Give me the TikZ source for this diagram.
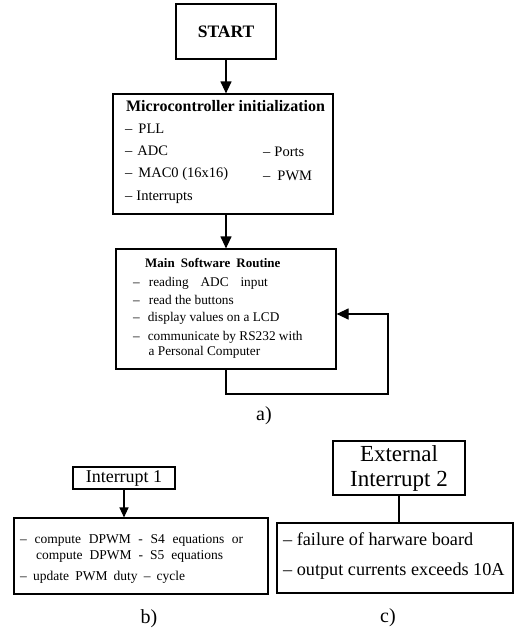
\documentclass[tikz,border=0pt]{standalone}
\usepackage{fontspec}
\setmainfont{Liberation Serif}
\usetikzlibrary{arrows.meta}
\usetikzlibrary{positioning}

\tikzset{
  blk/.style={draw, line width=1.2pt, inner sep=0pt},
  itm/.style={anchor=base west, inner sep=0pt},
  flow/.style={-{Triangle[length=12pt,width=11pt]}, line width=1.2pt},
}

\begin{document}
\begin{tikzpicture}[x=1pt, y=-1pt]
  \useasboundingbox (0,0) rectangle (516,630);

  % a) main program
  \node [blk, minimum width=100pt, minimum height=55pt, font=\fontsize{17.5}{20}\selectfont\bfseries] (c1) at (226,31.5) {START};

  \node [blk, minimum width=220pt, minimum height=120pt] (c2) at (223,154) {};
  \node [anchor=base, inner sep=0pt, font=\fontsize{16}{18}\selectfont\bfseries] (iMicro) at (225.5,111) {Microcontroller initialization};
  \node [itm, font=\fontsize{14.5}{16}\selectfont] (iPLL) at (125,133) {–\hspace{6pt}PLL};
  \node [itm, font=\fontsize{14.5}{16}\selectfont] (iADC) at (125,155) {–\hspace{5pt}ADC};
  \node [itm, font=\fontsize{14.5}{16}\selectfont] (iMAC) at (125,177) {–\hspace{6pt}MAC0 (16x16)};
  \node [itm, font=\fontsize{14.5}{16}\selectfont] (iInt) at (125,200) {–\hspace{4pt}Interrupts};
  \node [itm, font=\fontsize{14.5}{16}\selectfont] (iPorts) at (263,156) {–\hspace{4pt}Ports};
  \node [itm, font=\fontsize{14.5}{16}\selectfont] (iPWM) at (263,180) {–\hspace{7pt}PWM};

  \node [blk, minimum width=220pt, minimum height=120pt] (c3) at (226,309) {};
  \node [itm, font=\fontsize{13}{15}\selectfont\bfseries] (iMain) at (145,267) {Main\hspace{6pt}Software\hspace{6pt}Routine};
  \node [itm, font=\fontsize{13.3}{15}\selectfont] (iRead) at (133,286) {–\hspace{9pt}\makebox[119pt][s]{reading ADC input}};
  \node [itm, font=\fontsize{13.3}{15}\selectfont] (iBtn) at (133,304) {–\hspace{9pt}read the buttons};
  \node [itm, font=\fontsize{13.3}{15}\selectfont] (iLCD) at (133,321) {–\hspace{8pt}display values on a LCD};
  \node [itm, font=\fontsize{13.3}{15}\selectfont] (iRS) at (133,340) {–\hspace{8pt}communicate by RS232 with};
  \node [itm, font=\fontsize{13.3}{15}\selectfont] (iPC) at (148.5,355) {a Personal Computer};

  \coordinate (k1) at (388,394);

  \draw [flow] (c1.south) -- (c1.south |- c2.north);
  \draw [flow] (c2.south -| c1.south) -- (c1.south |- c3.north);
  \draw [flow] (c3.south) |- (k1) |- ([yshift=-5pt]c3.east);

  \node [font=\fontsize{20}{22}\selectfont] (la) at (264,416) {a)};

  % b) interrupt 1
  \node [blk, line width=1.1pt, minimum width=102pt, minimum height=22pt, font=\fontsize{18}{20}\selectfont] (c4) at (124,478) {Interrupt 1};
  \node [blk, line width=1.1pt, minimum width=254pt, minimum height=76pt] (c5) at (141,556) {};
  \node [itm, font=\fontsize{13.5}{15}\selectfont] (iS4) at (20,543) {\makebox[223pt][s]{– compute DPWM - S4 equations or}};
  \node [itm, font=\fontsize{13.5}{15}\selectfont] (iS5) at (36,559) {\makebox[187pt][s]{compute DPWM - S5 equations}};
  \node [itm, font=\fontsize{13.5}{15}\selectfont] (iDuty) at (20,580) {\makebox[165pt][s]{– update PWM duty – cycle}};

  \draw [-{Triangle[length=10pt,width=9pt]}, line width=1.1pt] (c4.south) -- (c4.south |- c5.north);

  \node [font=\fontsize{20}{22}\selectfont] (lb) at (149,619) {b)};

  % c) external interrupt 2
  \node [blk, line width=1.1pt, minimum width=132pt, minimum height=54pt, align=center, font=\fontsize{23}{25}\selectfont] (c6) at (399,468) {External\\Interrupt 2};
  \node [blk, line width=1.1pt, minimum width=236pt, minimum height=70pt] (c7) at (395,558) {};
  \node [itm, font=\fontsize{18.2}{20}\selectfont] (iFail) at (283,545) {– failure of harware board};
  \node [itm, font=\fontsize{18.2}{20}\selectfont] (iCur) at (283,575) {– output currents exceeds 10A};

  \draw [line width=1.1pt] (c6.south) -- (c6.south |- c7.north);

  \node [font=\fontsize{20}{22}\selectfont] (lc) at (388,618) {c)};
\end{tikzpicture}
\end{document}
